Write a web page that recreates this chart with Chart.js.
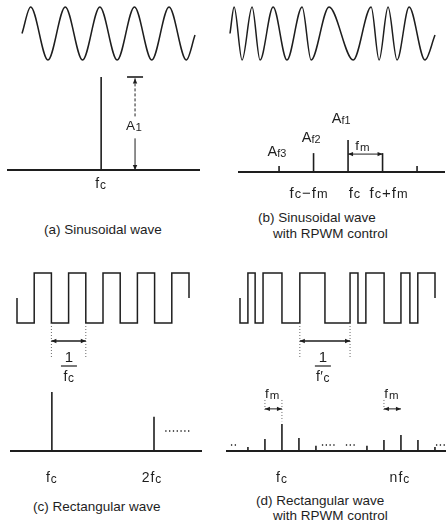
<!DOCTYPE html>
<html><head><meta charset="utf-8">
<script src="https://cdn.jsdelivr.net/npm/chart.js@4.4.1/dist/chart.umd.min.js"></script>
<style>
html,body{margin:0;padding:0;background:#fff;}
#wrap{position:relative;width:446px;height:523px;overflow:hidden;background:#fff;}
canvas{position:absolute;}
.cap{position:absolute;font-family:"Liberation Sans",Arial,sans-serif;font-size:13.5px;color:#1e1e1e;white-space:nowrap;line-height:1;transform:translateY(-50%);}
</style></head><body>
<div id="wrap">
<canvas id="waveA"></canvas><canvas id="specA"></canvas>
<canvas id="waveB"></canvas><canvas id="specB"></canvas>
<canvas id="waveC"></canvas><canvas id="specC"></canvas>
<canvas id="waveD"></canvas><canvas id="specD"></canvas>
<div class="cap" style="left:44px;top:230px">(a) Sinusoidal wave</div>
<div class="cap" style="left:258px;top:218px">(b) Sinusoidal wave</div>
<div class="cap" style="left:273px;top:234px">with RPWM control</div>
<div class="cap" style="left:33px;top:507px">(c) Rectangular wave</div>
<div class="cap" style="left:256px;top:501px">(d) Rectangular wave</div>
<div class="cap" style="left:273px;top:516px">with RPWM control</div>
</div>
<script>
// ---------------- data ----------------
// (a) sinusoidal carrier: extrema times (carrier periods) and normalized level
const sineA_t = [0, 0.25, 0.75, 1.25, 1.75, 2.25, 2.75, 3.25, 3.75, 4.25, 4.75, 5.0];
const sineA_v = [0, 1, -1, 1, -1, 1, -1, 1, -1, 1, -1, -0.06];
// (b) sinusoid with RPWM: extrema times (carrier periods) and level
const sineB_t = [0, 0.12, 0.35, 0.64, 0.87, 1.25, 1.65, 2.09, 2.35, 2.87, 3.57, 4.09, 4.32, 4.58, 4.84, 5.19, 5.65, 5.94];
const sineB_v = [0, 1, -1, 1, -1, 1, -1, 1, -1, 1, -1, 1, -1, 1, -1, 1, -1, -0.06];
// (a) spectrum: frequency (x fc) and amplitude
const specA_f = [1];
const specA_a = [1];
// (b) spectrum: offset from fc (x fm) and amplitude (Af1 = 1)
const specB_k = [-2, -1, 0, 1, 2];
const specB_a = [0.19, 0.59, 1, 0.59, 0.19];
// (c) rectangular wave: edge times (carrier periods) and level after edge
const rectC_t = [0, 0, 0.5, 1, 1.5, 2, 2.5, 3, 3.5, 4, 4.5, 5];
const rectC_v = [0, -1, 1, -1, 1, -1, 1, -1, 1, -1, 1, 0];
// (d) rectangular wave with RPWM: edge times and level after edge
const rectD_t = [0, 0, 0.23, 0.44, 0.67, 1.22, 1.74, 2.47, 3.2, 3.43, 3.66, 4.19, 4.68, 4.94, 5.17, 5.67];
const rectD_v = [0, -1, 1, -1, 1, -1, 1, -1, 1, -1, 1, -1, 1, -1, 1, 0];
// (c) spectrum: harmonic (x fc) and amplitude
const specC_f = [1, 2];
const specC_a = [1, 0.58];
// (d) spectrum: frequency (x fm, fc = 0, nfc = 7) and amplitude
const specD_f = [-2, -1, 0, 1, 2, 5, 6, 7, 8, 9];
const specD_a = [0.15, 0.44, 1, 0.48, 0.19, 0.19, 0.41, 0.59, 0.41, 0.15];

// ---------------- drawing helpers ----------------
const INK = '#1e1e1e';
const GREY = '#6a6a6a';
const FONT = '"Liberation Sans", Arial, sans-serif';

function parseRich(s){
  const out=[]; let i=0;
  while(i<s.length){
    if(s[i]==='_'){
      if(s[i+1]==='{'){const j=s.indexOf('}',i);out.push({t:s.slice(i+2,j),sub:true});i=j+1;}
      else {out.push({t:s[i+1],sub:true});i+=2;}
    } else {let j=i;while(j<s.length&&s[j]!=='_')j++;out.push({t:s.slice(i,j),sub:false});i=j;}
  }
  return out;
}
function drawRich(ctx,s,cx,cy,size,ratio,ls){
  const parts=parseRich(s), ss=size*(ratio||0.85);
  ctx.letterSpacing=(ls===undefined?1:ls)+'px';
  let w=0;
  for(const p of parts){ctx.font=(p.sub?ss:size)+'px '+FONT;p.w=ctx.measureText(p.t).width;w+=p.w;}
  let x=cx-w/2; const base=cy+size*0.36;
  ctx.textBaseline='alphabetic'; ctx.textAlign='left'; ctx.fillStyle=INK;
  for(const p of parts){ctx.font=(p.sub?ss:size)+'px '+FONT;ctx.fillText(p.t,x,p.sub?base+size*0.06:base);x+=p.w;}
  ctx.letterSpacing='0px';
}
function head(ctx,tx,ty,ox,oy){
  const dx=tx-ox, dy=ty-oy, L=Math.hypot(dx,dy)||1, ux=dx/L, uy=dy/L, hl=5, hw=2.2;
  ctx.beginPath();ctx.moveTo(tx,ty);
  ctx.lineTo(tx-ux*hl-uy*hw,ty-uy*hl+ux*hw);
  ctx.lineTo(tx-ux*hl+uy*hw,ty-uy*hl-ux*hw);
  ctx.closePath();ctx.fill();
}
function sketch(items){
  return {id:'sketch',afterDatasetsDraw(chart){
    const ctx=chart.ctx, X=v=>chart.scales.x.getPixelForValue(v), Y=v=>chart.scales.y.getPixelForValue(v);
    ctx.save();
    for(const it of items){
      ctx.strokeStyle=it.c||INK; ctx.fillStyle=it.c||INK; ctx.lineWidth=it.w||1.2; ctx.setLineDash(it.dash||[]);
      if(it.type==='seg'){
        const x1=X(it.x1),y1=Y(it.y1),x2=X(it.x2),y2=Y(it.y2);
        ctx.beginPath();ctx.moveTo(x1,y1);ctx.lineTo(x2,y2);ctx.stroke();ctx.setLineDash([]);
        if(it.h1)head(ctx,x1,y1,x2,y2);
        if(it.h2)head(ctx,x2,y2,x1,y1);
      } else if(it.type==='text'){
        drawRich(ctx,it.s,X(it.x),Y(it.y),it.size||14,it.r,it.ls);
      } else if(it.type==='frac'){
        drawRich(ctx,it.num,X(it.x),Y(it.yn),15,0.85,0);
        ctx.lineWidth=1.2;ctx.beginPath();ctx.moveTo(X(it.x)-it.hw,Y(it.yb));ctx.lineTo(X(it.x)+it.hw,Y(it.yb));ctx.stroke();
        drawRich(ctx,it.den,X(it.x),Y(it.yd),14,0.85,0.5);
      }
    }
    ctx.restore();
  }};
}
function pts(xs,ys){return xs.map((x,i)=>({x:x,y:ys[i]}));}
function build(id,box,pad,xr,yr,datasets,items,type){
  const cv=document.getElementById(id);
  cv.width=box[2];cv.height=box[3];cv.style.left=box[0]+'px';cv.style.top=box[1]+'px';
  return new Chart(cv,{type:type||'line',data:{datasets:datasets},
    options:{responsive:false,animation:false,devicePixelRatio:1,events:[],
      layout:{padding:pad},
      plugins:{legend:{display:false},tooltip:{enabled:false},title:{display:false}},
      scales:{x:{type:'linear',display:false,min:xr[0],max:xr[1],offset:false},
              y:{type:'linear',display:false,min:yr[0],max:yr[1]}}},
    plugins:[sketch(items||[])]});
}
function waveDs(xs,ys,mode){
  const d={data:pts(xs,ys),borderColor:INK,borderWidth:1.5,pointRadius:0,clip:false,fill:false};
  if(mode==='sine'){d.cubicInterpolationMode='monotone';} else {d.stepped='before';}
  return d;
}
function barsDs(xs,ys){
  return {type:'bar',data:pts(xs,ys),backgroundColor:INK,borderWidth:0,barThickness:1.6,inflateAmount:0,clip:false};
}
function baseDs(x0,x1){
  return {type:'line',data:[{x:x0,y:0},{x:x1,y:0}],borderColor:INK,borderWidth:1.8,pointRadius:0,clip:false};
}

// ---------------- (a) ----------------
build('waveA',[0,0,223,70],{left:22,right:28,top:7,bottom:10},[0,5],[-1,1],[waveDs(sineA_t,sineA_v,'sine')]);
build('specA',[0,70,223,130],{left:7,right:23,top:7,bottom:30},[0,2.05],[0,1],
  [barsDs(specA_f,specA_a),baseDs(0,2.05)],
  [{type:'text',s:'f_c',x:1,y:-0.14},
   {type:'seg',x1:1.275,y1:1,x2:1.445,y2:1,w:1.6},
   {type:'seg',x1:1.36,y1:0.985,x2:1.36,y2:0.57,dash:[3,2],h1:true,w:1},
   {type:'text',s:'A_1',x:1.35,y:0.48,size:13.5,ls:0.5},
   {type:'seg',x1:1.36,y1:0.34,x2:1.36,y2:0.0,h2:true,w:1}],'bar');

// ---------------- (b) ----------------
build('waveB',[223,0,223,70],{left:7,right:11,top:7,bottom:10},[0,5.94],[-1,1],[waveDs(sineB_t,sineB_v,'sine')]);
build('specB',[223,70,223,130],{left:15,right:1,top:70,bottom:28},[-3.19,2.81],[0,1],
  [barsDs(specB_k,specB_a),baseDs(-3.19,2.81)],
  [{type:'text',s:'A_{f1}',x:-0.2,y:1.69,size:14.5,r:0.75,ls:0},
   {type:'text',s:'A_{f2}',x:-1.07,y:1.09,size:14.5,r:0.75,ls:0},
   {type:'text',s:'A_{f3}',x:-2.06,y:0.66,size:14.5,r:0.75,ls:0},
   {type:'text',s:'f_m',x:0.43,y:0.84,size:13.5},
   {type:'seg',x1:0,y1:0.56,x2:1,y2:0.56,h1:true,h2:true,w:1},
   {type:'text',s:'f_c\u2212f_m',x:-1.13,y:-0.63,size:15},
   {type:'text',s:'f_c',x:0.2,y:-0.63,size:15},
   {type:'text',s:'f_c+f_m',x:1.19,y:-0.63,size:15}],'bar');

// ---------------- (c) ----------------
build('waveC',[0,255,223,130],{left:17,right:34,top:18,bottom:62},[0,5],[-1,1],[waveDs(rectC_t,rectC_v,'rect')],
  [{type:'seg',x1:1,y1:-1,x2:1,y2:-2.4,dash:[1,2],c:GREY,w:1},
   {type:'seg',x1:2,y1:-1,x2:2,y2:-2.4,dash:[1,2],c:GREY,w:1},
   {type:'seg',x1:1,y1:-1.72,x2:2,y2:-1.72,h1:true,h2:true,w:1.3},
   {type:'frac',num:'1',den:'f_c',x:1.51,yn:-2.36,yb:-2.72,yd:-3.12,hw:8}]);
build('specC',[0,385,223,105],{left:10,right:21,top:7,bottom:39},[0.59,2.47],[0,1],
  [barsDs(specC_f,specC_a),baseDs(0.59,2.47)],
  [{type:'seg',x1:2.11,y1:0.34,x2:2.37,y2:0.34,dash:[1.3,2.5],w:1.4},
   {type:'text',s:'f_c',x:1,y:-0.44},
   {type:'text',s:'2f_c',x:1.98,y:-0.44}],'bar');

// ---------------- (d) ----------------
build('waveD',[223,255,223,130],{left:17,right:11,top:18,bottom:62},[0,5.67],[-1,1],[waveDs(rectD_t,rectD_v,'rect')],
  [{type:'seg',x1:1.74,y1:-1,x2:1.74,y2:-2.4,dash:[1,2],c:GREY,w:1},
   {type:'seg',x1:3.2,y1:-1,x2:3.2,y2:-2.4,dash:[1,2],c:GREY,w:1},
   {type:'seg',x1:1.74,y1:-1.72,x2:3.2,y2:-1.72,h1:true,h2:true,w:1.3},
   {type:'frac',num:'1',den:'f\u2032_c',x:2.41,yn:-2.36,yb:-2.72,yd:-3.12,hw:8}]);
build('specD',[223,385,223,105],{left:3,right:0,top:39,bottom:39},[-3.29,9.65],[0,1],
  [barsDs(specD_f,specD_a),baseDs(-3.29,9.65)],
  [{type:'seg',x1:-3.0,y1:0.22,x2:-2.6,y2:0.22,dash:[1.3,2.5],w:1.4},
   {type:'seg',x1:2.35,y1:0.22,x2:3.2,y2:0.22,dash:[1.3,2.5],w:1.4},
   {type:'seg',x1:3.76,y1:0.22,x2:4.35,y2:0.22,dash:[1.3,2.5],w:1.4},
   {type:'seg',x1:9.06,y1:0.22,x2:9.6,y2:0.22,dash:[1.3,2.5],w:1.4},
   {type:'seg',x1:-1,y1:1.89,x2:-1,y2:1.48,dash:[1,2],c:GREY,w:1},
   {type:'seg',x1:0,y1:1.89,x2:0,y2:1.1,dash:[1,2],c:GREY,w:1},
   {type:'seg',x1:-1,y1:1.56,x2:0,y2:1.56,h1:true,h2:true,w:1},
   {type:'text',s:'f_m',x:-0.55,y:2.15,size:13.5},
   {type:'seg',x1:6,y1:1.89,x2:6,y2:1.48,dash:[1,2],c:GREY,w:1},
   {type:'seg',x1:6,y1:1.56,x2:7,y2:1.56,h1:true,h2:true,w:1},
   {type:'text',s:'f_m',x:6.47,y:2.15,size:13.5},
   {type:'text',s:'f_c',x:0,y:-0.96},
   {type:'text',s:'nf_c',x:6.94,y:-0.96}],'bar');
</script>
</body></html>
